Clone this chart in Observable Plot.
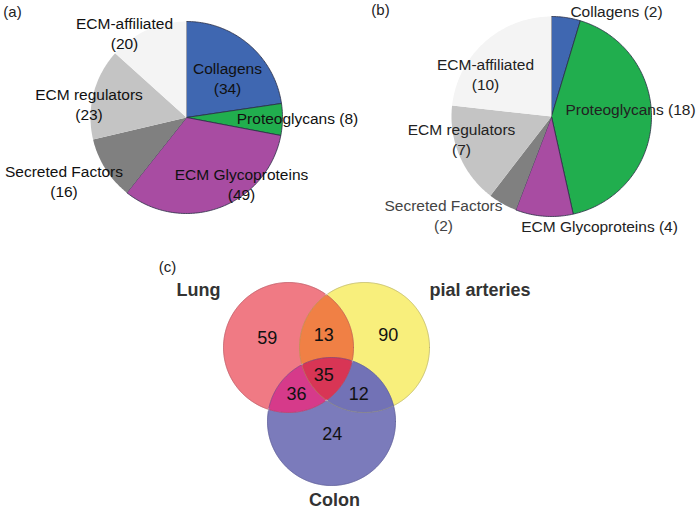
<!DOCTYPE html>
<html>
<head>
<meta charset="utf-8">
<script src="https://cdn.jsdelivr.net/npm/d3@7"></script>
<script src="https://cdn.jsdelivr.net/npm/@observablehq/plot@0.6"></script>
<style>
  body { margin: 0; background: #ffffff; }
  #chart svg { display: block; }
</style>
</head>
<body>
<div id="chart"></div>
<script>
// ---------------- data ----------------
const categories = ["Collagens", "Proteoglycans", "ECM Glycoproteins", "Secreted Factors", "ECM regulators", "ECM-affiliated"];
const pieAValues = [34, 8, 49, 16, 23, 20];
const pieBValues = [2, 18, 4, 2, 7, 10];
const panelLabels = ["(a)", "(b)", "(c)"];

const vennSets = ["Lung", "pial arteries", "Colon"];
const vennRegionMembers = [[0], [1], [2], [0, 1], [0, 2], [1, 2], [0, 1, 2]];
const vennCounts = [59, 90, 24, 13, 36, 12, 35];

// ---------------- styles ----------------
const sliceColors = ["#3f67b1", "#21ae4e", "#a84ca2", "#808080", "#c4c4c4", "#f4f4f4"];
const sliceStrokes = ["#2a2d45", "#2a2d45", "#2a2d45", "none", "none", "none"];
const vennRegionColors = ["#f07a84", "#f8ef7c", "#7b7bbb", "#f08045", "#d63a8a", "#7272b6", "#d83555"];
const vennCircleStrokes = ["#a04a55", "#9a9460", "#4a4a80"];

// ---------------- layout ----------------
const pieLayouts = [
  {cx: 186, cy: 117, r: 96, labelColor: "#111",
   labels: [
     {x: 227, y: 77, oneLine: false},
     {x: 297, y: 117.5, oneLine: true},
     {x: 241, y: 183, oneLine: false},
     {x: 63.5, y: 180, oneLine: false},
     {x: 88.5, y: 103.3, oneLine: false},
     {x: 124, y: 31.7, oneLine: false}
   ]},
  {cx: 551, cy: 116, r: 100, labelColor: "#222",
   labels: [
     {x: 616, y: 10, oneLine: true},
     {x: 630, y: 108.3, oneLine: true},
     {x: 599, y: 225, oneLine: true},
     {x: 443, y: 214, oneLine: false},
     {x: 461, y: 138.3, oneLine: false},
     {x: 485, y: 72.7, oneLine: false}
   ]}
];
const panelLabelPos = [{x: 12, y: 12}, {x: 380, y: 10}, {x: 167, y: 267}];
const vennCircles = [{cx: 288, cy: 347, r: 65}, {cx: 364, cy: 347, r: 65}, {cx: 331, cy: 421, r: 64}];
const vennCountPos = [
  {x: 266.7, y: 338}, {x: 387.7, y: 335}, {x: 331.7, y: 433.3},
  {x: 323.3, y: 335}, {x: 296, y: 393.3}, {x: 358.3, y: 394}, {x: 323.3, y: 375}
];
const vennSetLabelPos = [{x: 198, y: 290}, {x: 479.5, y: 290}, {x: 334, y: 500}];

// ---------------- derived geometry ----------------
const pieValues = [pieAValues, pieBValues];
const sliceRows = [];
const pieLabelRows = [];
pieValues.forEach((vals, p) => {
  const L = pieLayouts[p];
  const arcs = d3.pie().sort(null).value(d => d)(vals);
  arcs.forEach((a, i) => {
    const id = `p${p}-${i}`;
    const pts = [[L.cx, L.cy]];
    const n = Math.max(2, Math.ceil((a.endAngle - a.startAngle) / (Math.PI / 180)));
    for (let k = 0; k <= n; k++) {
      const ang = a.startAngle + (a.endAngle - a.startAngle) * k / n;
      pts.push([L.cx + L.r * Math.sin(ang), L.cy - L.r * Math.cos(ang)]);
    }
    pts.push([L.cx, L.cy]);
    for (const [x, y] of pts) sliceRows.push({id, x, y, fill: sliceColors[i], stroke: sliceStrokes[i]});
    const lab = L.labels[i];
    const text = lab.oneLine ? `${categories[i]} (${vals[i]})` : `${categories[i]}\n(${vals[i]})`;
    const color = (p === 1 && i === 3) ? "#444" : L.labelColor;
    pieLabelRows.push({x: lab.x, y: lab.y, text, color});
  });
});

const circleRows = [];
vennCircles.forEach((c, i) => {
  for (let k = 0; k <= 360; k++) {
    const a = k * Math.PI / 180;
    circleRows.push({id: i, x: c.cx + c.r * Math.cos(a), y: c.cy + c.r * Math.sin(a), stroke: vennCircleStrokes[i]});
  }
});

function regionValue(k, x, y) {
  const members = vennRegionMembers[k];
  let v = Infinity;
  vennCircles.forEach((c, i) => {
    const d = Math.hypot(x - c.cx, y - c.cy);
    const s = members.includes(i) ? c.r - d : d - c.r;
    if (s < v) v = s;
  });
  return v;
}

const countRows = vennCounts.map((c, k) => ({x: vennCountPos[k].x, y: vennCountPos[k].y, text: String(c)}));
const setRows = vennSets.map((s, i) => ({x: vennSetLabelPos[i].x, y: vennSetLabelPos[i].y, text: s}));
const panelRows = panelLabels.map((t, i) => ({x: panelLabelPos[i].x, y: panelLabelPos[i].y, text: t}));

const font = "Liberation Sans, Arial, Helvetica, sans-serif";

const regionMarks = vennCounts.map((c, k) => Plot.contour({
  value: (x, y) => regionValue(k, x, y),
  thresholds: [0],
  x1: 200, x2: 450, y1: 270, y2: 500,
  fill: vennRegionColors[k],
  stroke: vennRegionColors[k],
  strokeWidth: 0.6
}));

const chart = Plot.plot({
  width: 700,
  height: 510,
  margin: 0,
  x: {domain: [0, 700], range: [0, 700], axis: null},
  y: {domain: [0, 510], range: [0, 510], axis: null},
  color: {type: "identity"},
  style: {fontFamily: font, background: "#ffffff"},
  marks: [
    Plot.line(sliceRows, {x: "x", y: "y", z: "id", fill: "fill", stroke: "stroke", strokeWidth: 0.8, curve: "linear"}),
    ...regionMarks,
    Plot.line(circleRows, {x: "x", y: "y", z: "id", stroke: "stroke", strokeOpacity: 0.45, strokeWidth: 1}),
    Plot.text(pieLabelRows, {x: "x", y: "y", text: "text", fill: "color", fontSize: 15.5, lineHeight: 1.29, fontFamily: font}),
    Plot.text(countRows, {x: "x", y: "y", text: "text", fill: "#111", fontSize: 18, fontFamily: font}),
    Plot.text(setRows, {x: "x", y: "y", text: "text", fill: "#333", fontSize: 18, fontWeight: "bold", fontFamily: font}),
    Plot.text(panelRows, {x: "x", y: "y", text: "text", fill: "#222", fontSize: 15, fontFamily: font})
  ]
});
document.getElementById("chart").appendChild(chart);
</script>
</body>
</html>
